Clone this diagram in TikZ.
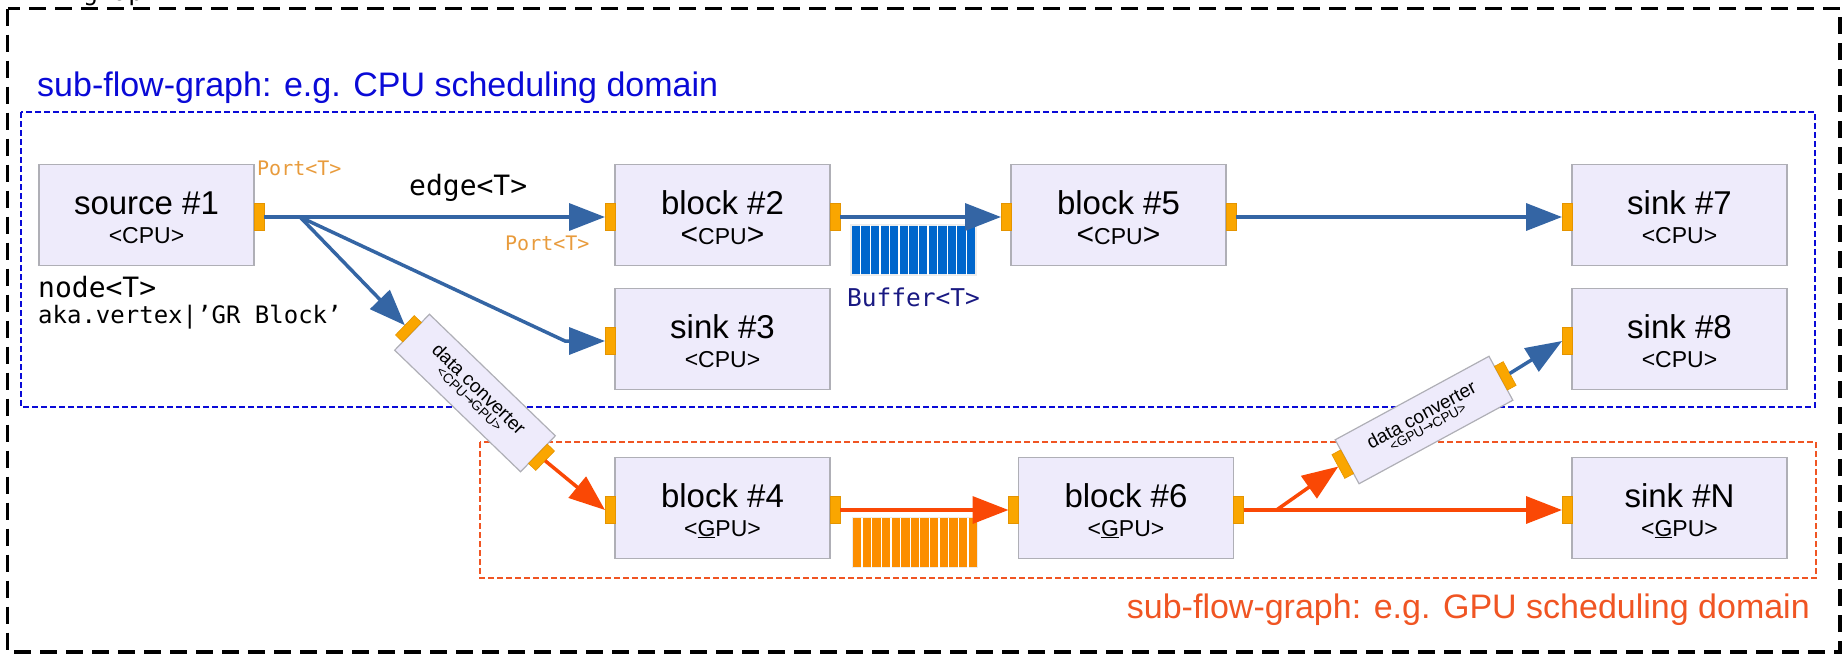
\documentclass[tikz,border=0pt]{standalone}
\usepackage{fontspec}
\setmainfont{Liberation Sans}
\newfontfamily\monofont{DejaVu Sans Mono}
\newfontfamily\arrowfont{DejaVu Sans}
\usetikzlibrary{arrows.meta,calc}

\definecolor{boxfill}{RGB}{238,235,251}
\definecolor{boxline}{RGB}{175,175,182}
\definecolor{portc}{RGB}{250,166,0}
\definecolor{portd}{RGB}{228,148,0}
\definecolor{cpuedge}{RGB}{52,101,164}
\definecolor{gpuedge}{RGB}{250,72,5}
\definecolor{cpudom}{RGB}{10,10,215}
\definecolor{gpudom}{RGB}{240,85,35}
\definecolor{bufblue}{RGB}{0,102,204}
\definecolor{buforange}{RGB}{252,142,0}
\definecolor{portlbl}{RGB}{232,155,60}
\definecolor{navyc}{RGB}{25,25,130}

\newcommand\fsz[1]{\fontsize{#1}{#1}\selectfont}
\newcommand\bigcpu{{\fsz{30}<}{\fsz{23}CPU}{\fsz{30}>}}
\newcommand\gpu{<\underline{G}PU>}

\begin{document}
\begin{tikzpicture}[x=1pt,y=-1pt,
  box/.style={draw=boxline, line width=1.2pt, fill=boxfill, minimum width=215pt,
    minimum height=101pt, inner sep=0pt, outer sep=0pt},
  ttl/.style={font=\fsz{33}, inner sep=0pt, anchor=base},
  subt/.style={font=\fsz{23}, inner sep=0pt, anchor=base},
  port/.style={fill=portc, draw=portd, line width=0.6pt, minimum width=10pt,
    minimum height=27pt, inner sep=0pt, outer sep=0pt},
  conv/.style={draw=boxline, line width=1.2pt, fill=boxfill, minimum width=175pt,
    minimum height=50pt, inner sep=0pt, outer sep=0pt, align=center},
  buf/.style={draw=white!85!gray, line width=1.5pt, minimum width=125pt,
    minimum height=50pt, inner sep=0pt, outer sep=0pt},
  cpuline/.style={draw=cpuedge, line width=3.5pt, -{Triangle[length=36pt,width=27pt]}},
  gpuline/.style={draw=gpuedge, line width=3.5pt, -{Triangle[length=36pt,width=27pt]}},
  mono/.style={font=\monofont\fsz{#1}, inner sep=0pt},
  domcpu/.style={draw=cpudom, line width=2pt, dash pattern=on 6pt off 3pt},
  domgpu/.style={draw=gpudom, line width=2pt, dash pattern=on 6pt off 3pt},
]
\useasboundingbox (0,0) rectangle (1843,656);

% top cut text
\begin{scope}
\clip (0,0) rectangle (1843,656);
\node[mono=25, anchor=base west] (topl) at (83,0.5) {graph};
\end{scope}

% outer frame
\draw[black, line width=3.5pt, dash pattern=on 17pt off 9pt] (7.5,8.5) rectangle (1840,652);

% domains
\draw[domcpu] (21,112) rectangle (1815,407);
\draw[domgpu] (480,442) rectangle (1816,578);
\node[font=\fsz{34}, text=cpudom, anchor=base west, inner sep=0pt] (cpulbl) at (37,96)
  {sub-flow-graph: e.g. CPU scheduling domain};
\node[font=\fsz{34}, text=gpudom, anchor=base east, inner sep=0pt] (gpulbl) at (1810,618)
  {sub-flow-graph: e.g. GPU scheduling domain};

% blocks
\node[box] (src) at (146.5,215) {};
\node[ttl] (srct) at ($(src.center)+(0,-1)$) {source \#1};
\node[subt] (srcs) at ($(src.center)+(0,28)$) {<CPU>};
\node[port, anchor=west] (srco) at ($(src.east)+(0,2)$) {};

\node[box] (b2) at (722.5,215) {};
\node[ttl] (b2t) at ($(b2.center)+(0,-1)$) {block \#2};
\node[subt] (b2s) at ($(b2.center)+(0,29)$) {\bigcpu};
\node[port, anchor=east] (b2i) at ($(b2.west)+(0,2)$) {};
\node[port, anchor=west] (b2o) at ($(b2.east)+(0,2)$) {};

\node[box] (b5) at (1118.5,215) {};
\node[ttl] (b5t) at ($(b5.center)+(0,-1)$) {block \#5};
\node[subt] (b5s) at ($(b5.center)+(0,29)$) {\bigcpu};
\node[port, anchor=east] (b5i) at ($(b5.west)+(0,2)$) {};
\node[port, anchor=west] (b5o) at ($(b5.east)+(0,2)$) {};

\node[box] (s7) at (1679.5,215) {};
\node[ttl] (s7t) at ($(s7.center)+(0,-1)$) {sink \#7};
\node[subt] (s7s) at ($(s7.center)+(0,28)$) {<CPU>};
\node[port, anchor=east] (s7i) at ($(s7.west)+(0,2)$) {};

\node[box] (s3) at (722.5,339) {};
\node[ttl] (s3t) at ($(s3.center)+(0,-1)$) {sink \#3};
\node[subt] (s3s) at ($(s3.center)+(0,28)$) {<CPU>};
\node[port, anchor=east] (s3i) at ($(s3.west)+(0,2)$) {};

\node[box] (s8) at (1679.5,339) {};
\node[ttl] (s8t) at ($(s8.center)+(0,-1)$) {sink \#8};
\node[subt] (s8s) at ($(s8.center)+(0,28)$) {<CPU>};
\node[port, anchor=east] (s8i) at ($(s8.west)+(0,2)$) {};

\node[box] (b4) at (722.5,508) {};
\node[ttl] (b4t) at ($(b4.center)+(0,-1)$) {block \#4};
\node[subt] (b4s) at ($(b4.center)+(0,28)$) {\gpu};
\node[port, anchor=east] (b4i) at ($(b4.west)+(0,2)$) {};
\node[port, anchor=west] (b4o) at ($(b4.east)+(0,2)$) {};

\node[box] (b6) at (1126,508) {};
\node[ttl] (b6t) at ($(b6.center)+(0,-1)$) {block \#6};
\node[subt] (b6s) at ($(b6.center)+(0,28)$) {\gpu};
\node[port, anchor=east] (b6i) at ($(b6.west)+(0,2)$) {};
\node[port, anchor=west] (b6o) at ($(b6.east)+(0,2)$) {};

\node[box] (sN) at (1679.5,508) {};
\node[ttl] (sNt) at ($(sN.center)+(0,-1)$) {sink \#N};
\node[subt] (sNs) at ($(sN.center)+(0,28)$) {\gpu};
\node[port, anchor=east] (sNi) at ($(sN.west)+(0,2)$) {};

% converters
\node[conv, rotate=-44] (c1) at (475,393)
  {\fontsize{19}{21}\selectfont data converter\\\fontsize{13.5}{19}\selectfont <CPU{\arrowfont→}GPU>};
\node[port, rotate=-44, anchor=east] (c1i) at (c1.west) {};
\node[port, rotate=-44, anchor=west] (c1o) at (c1.east) {};

\node[conv, rotate=28.5] (c2) at (1424,420)
  {\fontsize{19}{21}\selectfont data converter\\\fontsize{13.5}{19}\selectfont <GPU{\arrowfont→}CPU>};
\node[port, rotate=28.5, anchor=east] (c2i) at (c2.west) {};
\node[port, rotate=28.5, anchor=west] (c2o) at (c2.east) {};

% buffers
\node[buf, fill=bufblue] (buf1) at (913.5,250) {};
\foreach \i in {1,...,12}
  \draw[white, line width=1.3pt] ($(buf1.north west)!\i/13!(buf1.north east)$) -- ($(buf1.south west)!\i/13!(buf1.south east)$);
\node[buf, fill=buforange] (buf2) at (915,542.5) {};
\foreach \i in {1,...,12}
  \draw[white, line width=1.3pt] ($(buf2.north west)!\i/13!(buf2.north east)$) -- ($(buf2.south west)!\i/13!(buf2.south east)$);

% labels
\node[mono=20, text=portlbl, anchor=west] (pl1) at (257,168) {Port<T>};
\node[mono=20, text=portlbl, anchor=west] (pl2) at (505,243) {Port<T>};
\node[mono=28, anchor=west] (edgel) at (409,188) {edge<T>};
\node[mono=28, anchor=west] (nodel) at (38,287) {node<T>};
\node[mono=24, anchor=west] (akal) at (38,317) {aka.vertex|’GR Block’};
\node[mono=24.5, text=navyc, anchor=west] (bufl) at (847,297) {Buffer<T>};

% edges
\coordinate (br1) at ($(srco.east)+(36,0)$);
\coordinate (bend3) at ($(s3i.west)+(-40,0)$);
\draw[cpuline] (srco.east) -- (b2i.west);
\draw[cpuline] (br1) -- (bend3) -- (s3i.west);
\draw[cpuline] (br1) -- (c1i.west);
\draw[gpuline] (c1o.east) -- (b4i.west);
\draw[cpuline] (b2o.east) -- (b5i.west);
\draw[cpuline] (b5o.east) -- (s7i.west);
\draw[gpuline] (b4o.east) -- (b6i.west);
\draw[gpuline] (b6o.east) -- (sNi.west);
\coordinate (br2) at ($(b6o.east)+(33,0)$);
\draw[gpuline] (br2) -- (c2i.west);
\draw[cpuline] (c2o.east) -- (s8i.west);
\end{tikzpicture}
\end{document}
